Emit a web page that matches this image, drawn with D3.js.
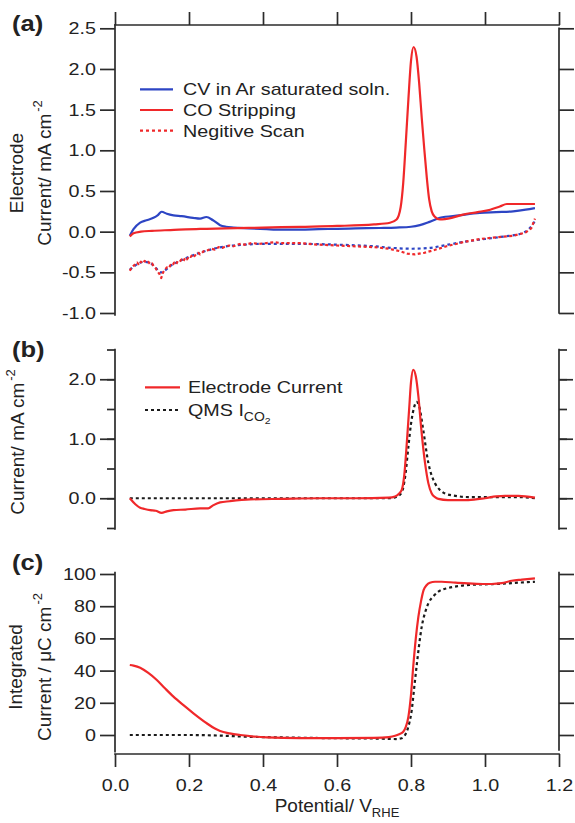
<!DOCTYPE html>
<html><head><meta charset="utf-8">
<script src="https://cdn.jsdelivr.net/npm/d3@7"></script>
<style>
body{margin:0;background:#fff;}
svg{display:block;}
text{font-family:"Liberation Sans",Arial,Helvetica,sans-serif;fill:#222;}
</style>
</head><body>
<svg id="chart" width="575" height="823"></svg>
<script>
// ---------------- DATA ----------------
// x axis (Potential / V_RHE)
const xTicks = [0.0, 0.2, 0.4, 0.6, 0.8, 1.0, 1.2];

// Panel (a): electrode current, mA cm^-2
const aTicks = [-1.0, -0.5, 0.0, 0.5, 1.0, 1.5, 2.0, 2.5];
const aLegend = ["CV in Ar saturated soln.", "CO Stripping", "Negitive Scan"];

const cvPosX = [0.04,0.05,0.068,0.085,0.104,0.115,0.126,0.14,0.158,0.18,0.211,0.23,0.247,0.265,0.284,0.30,0.32,0.36,0.41,0.45,0.5,0.55,0.6,0.65,0.716,0.76,0.8,0.824,0.85,0.878,0.93,0.986,1.03,1.076,1.11,1.135];
const cvPosY = [-0.05,0.03,0.11,0.14,0.17,0.2,0.245,0.22,0.2,0.19,0.17,0.16,0.18,0.14,0.08,0.06,0.05,0.04,0.03,0.025,0.025,0.03,0.035,0.04,0.045,0.05,0.06,0.08,0.12,0.17,0.2,0.23,0.24,0.25,0.27,0.29];

const cvNegX = [0.04,0.06,0.08,0.1,0.125,0.15,0.2,0.25,0.3,0.35,0.4,0.5,0.6,0.7,0.75,0.8,0.85,0.9,0.95,1.0,1.05,1.1,1.12,1.135];
const cvNegY = [-0.47,-0.4,-0.37,-0.4,-0.5,-0.42,-0.31,-0.23,-0.18,-0.16,-0.15,-0.15,-0.16,-0.18,-0.2,-0.21,-0.2,-0.16,-0.12,-0.09,-0.06,-0.02,0.04,0.13];

const coX = [0.04,0.05,0.07,0.1,0.15,0.23,0.3,0.4,0.5,0.6,0.7,0.743,0.761,0.772,0.779,0.786,0.793,0.8,0.807,0.815,0.822,0.829,0.836,0.843,0.849,0.856,0.863,0.878,0.91,0.941,0.98,1.014,1.04,1.059,1.09,1.135];
const coY = [-0.06,-0.02,0.0,0.01,0.02,0.035,0.04,0.05,0.06,0.07,0.09,0.11,0.15,0.3,0.6,1.1,1.63,2.1,2.27,2.15,1.83,1.4,1.01,0.65,0.4,0.25,0.19,0.15,0.17,0.21,0.24,0.27,0.31,0.34,0.34,0.34];

const coNegX = [0.04,0.045,0.05,0.055,0.06,0.065,0.07,0.075,0.08,0.085,0.09,0.095,0.1,0.105,0.11,0.115,0.12,0.125,0.13,0.135,0.14,0.145,0.15,0.155,0.16,0.165,0.17,0.175,0.18,0.185,0.19,0.195,0.2,0.205,0.21,0.215,0.22,0.225,0.23,0.24,0.25,0.26,0.27,0.28,0.29,0.3,0.31,0.32,0.33,0.34,0.35,0.37,0.39,0.41,0.43,0.45,0.5,0.55,0.6,0.65,0.7,0.74,0.77,0.79,0.81,0.836,0.86,0.896,0.94,0.986,1.03,1.076,1.11,1.125,1.135];
const coNegY = [-0.48,-0.44,-0.42,-0.4,-0.38,-0.41,-0.37,-0.39,-0.36,-0.38,-0.37,-0.4,-0.39,-0.43,-0.45,-0.49,-0.52,-0.57,-0.5,-0.47,-0.44,-0.45,-0.41,-0.42,-0.38,-0.4,-0.36,-0.37,-0.34,-0.36,-0.32,-0.34,-0.3,-0.31,-0.28,-0.3,-0.27,-0.26,-0.28,-0.24,-0.23,-0.21,-0.22,-0.19,-0.2,-0.18,-0.17,-0.18,-0.16,-0.15,-0.16,-0.14,-0.15,-0.14,-0.13,-0.14,-0.14,-0.16,-0.17,-0.18,-0.19,-0.21,-0.24,-0.27,-0.28,-0.26,-0.23,-0.18,-0.13,-0.09,-0.07,-0.05,-0.01,0.04,0.16];

// Panel (b): current, mA cm^-2
const bTicks = [-0.5, 0.0, 0.5, 1.0, 1.5, 2.0, 2.5];
const bLabels = [0.0, 1.0, 2.0];
const bLegend = ["Electrode Current", "QMS I"];

const ecX = [0.04,0.055,0.068,0.08,0.095,0.11,0.126,0.14,0.158,0.19,0.23,0.252,0.265,0.284,0.31,0.365,0.45,0.55,0.65,0.74,0.757,0.768,0.775,0.782,0.788,0.795,0.8,0.806,0.813,0.82,0.828,0.838,0.847,0.856,0.865,0.874,0.9,0.955,1.0,1.03,1.054,1.09,1.135];
const ecY = [0,-0.1,-0.16,-0.18,-0.2,-0.21,-0.245,-0.22,-0.2,-0.19,-0.17,-0.17,-0.12,-0.07,-0.05,-0.02,-0.01,0,0,0.01,0.03,0.08,0.14,0.4,0.87,1.5,1.95,2.16,2.05,1.71,1.15,0.59,0.25,0.08,0.02,-0.01,-0.03,-0.03,0,0.03,0.04,0.04,0.01];

const qmsX = [0.04,0.2,0.4,0.6,0.74,0.76,0.775,0.785,0.793,0.8,0.808,0.815,0.822,0.833,0.847,0.856,0.865,0.878,0.892,0.92,0.955,1.0,1.045,1.09,1.135];
const qmsY = [0,0,0,0,0,0.02,0.1,0.4,0.87,1.25,1.52,1.62,1.55,1.15,0.59,0.38,0.25,0.14,0.08,0.04,0.02,0.02,0.02,0.02,0.0];

// Panel (c): integrated current, uC cm^-2
const cTicks = [0, 20, 40, 60, 80, 100];

const intX = [0.04,0.05,0.068,0.09,0.113,0.135,0.158,0.185,0.212,0.248,0.27,0.284,0.31,0.338,0.37,0.41,0.5,0.6,0.7,0.74,0.757,0.768,0.779,0.786,0.793,0.8,0.806,0.813,0.82,0.827,0.834,0.842,0.851,0.865,0.883,0.92,0.955,1.0,1.018,1.045,1.072,1.1,1.135];
const intY = [43.5,43.1,41.8,38.6,34.2,29,23.8,18.5,13.5,7.3,4,2.5,1,0,-0.8,-1.5,-2,-2,-1.8,-1.3,-0.5,0.5,2,5,11.4,25,42.4,60,73.5,83,90,93,94.6,95.2,95.2,94.6,94.2,93.8,93.8,94.3,95.8,96.5,97.3];

const qmsIntX = [0.04,0.2,0.3,0.35,0.45,0.6,0.7,0.76,0.775,0.784,0.79,0.796,0.802,0.808,0.815,0.822,0.829,0.838,0.847,0.86,0.874,0.9,0.928,0.96,1.0,1.05,1.09,1.135];
const qmsIntY = [0,0,-0.5,-1,-1.5,-2,-2.2,-2.5,-2,0,3,8,15.5,28,42.4,56,67.3,76,81.8,86,89,91.3,92.5,93.2,93.6,94,94.6,95.2];

// ---------------- DRAWING ----------------
const FONT = '"Liberation Sans", Arial, Helvetica, sans-serif';
const SX = 1.16, FS = 17, TFS = 19;
const AX = "#2b2b2b", RED = "#f0282a", BLUE = "#2d45c4", BLK = "#1a1a1a";
const LW = 2.2;
const svg = d3.select("#chart");

const x  = d3.scaleLinear().domain([0, 1.2]).range([115, 559]);
const yA = d3.scaleLinear().domain([-1, 2.5]).range([313, 28.3]);
const yB = d3.scaleLinear().domain([-0.5, 2.5]).range([528, 349.5]);
const yC = d3.scaleLinear().domain([0, 100]).range([735, 574]);

function spine(x1, y1, x2, y2) {
  svg.append("line").attr("x1", x1).attr("y1", y1).attr("x2", x2).attr("y2", y2)
    .attr("stroke", AX).attr("stroke-width", 1.7).attr("stroke-linecap", "square");
}

function axis(gen, tx, ty, values, size, fmt) {
  gen.tickValues(values).tickSize(size).tickSizeOuter(0);
  if (fmt) gen.tickFormat(fmt).tickPadding(1.4); else gen.tickFormat("");
  const g = svg.append("g").attr("transform", `translate(${tx},${ty})`).call(gen);
  g.attr("font-family", FONT).attr("font-size", FS);
  g.select(".domain").remove();
  g.selectAll(".tick line").attr("stroke", AX).attr("stroke-width", 1.7);
  g.selectAll(".tick text").attr("fill", "#222").attr("transform", `scale(${SX},1)`);
  return g;
}

function plot(xs, ys, ys2, color, width, dash, curve) {
  const data = xs.map((v, i) => [v, ys[i]]);
  const p = svg.append("path").datum(data)
    .attr("d", d3.line().x(d => x(d[0])).y(d => ys2(d[1])).curve(curve || d3.curveMonotoneX))
    .attr("fill", "none").attr("stroke", color).attr("stroke-width", width)
    .attr("stroke-linejoin", "round");
  if (dash) p.attr("stroke-dasharray", dash);
  return p;
}

function text(tx, ty, str, opts = {}) {
  const sx = opts.sx == null ? SX : opts.sx;
  const t = svg.append("text")
    .attr("transform", `translate(${tx},${ty}) scale(${sx},1)` + (opts.rotate ? " rotate(-90)" : ""))
    .attr("font-size", opts.size || FS)
    .attr("font-weight", opts.weight || "normal")
    .attr("text-anchor", opts.anchor || "start")
    .text(str);
  return t;
}

function title(tx, ty, str, sup) {
  const t = text(tx, ty, str, { rotate: true, anchor: "middle", size: TFS, sx: 1 });
  if (sup) t.append("tspan").attr("dy", -9).attr("dx", 2).attr("font-size", 13).text(sup);
  return t;
}

const f1 = d => d.toFixed(1);

// ---- Panel (a) ----
spine(115, 25, 559, 25);
axis(d3.axisTop(x), 0, 25, xTicks, 13, null);
spine(115, 25, 115, 315);
axis(d3.axisLeft(yA), 115, 0, aTicks, 15, f1);
spine(559, 28.3, 559, 313);
axis(d3.axisRight(yA), 559, 0, aTicks, 15, null);

plot(cvNegX, cvNegY, yA, BLUE, LW, "3,3");
plot(coNegX, coNegY, yA, RED, LW, "3,2.5", d3.curveLinear);
plot(cvPosX, cvPosY, yA, BLUE, LW);
plot(coX, coY, yA, RED, LW);

// legend (a)
const legA = [[BLUE, null], [RED, null], [RED, "3,3"]];
aLegend.forEach((s, i) => {
  const yy = 89.3 + i * 20.7;
  const l = svg.append("line").attr("x1", 140).attr("x2", 173).attr("y1", yy).attr("y2", yy)
    .attr("stroke", legA[i][0]).attr("stroke-width", LW);
  if (legA[i][1]) l.attr("stroke-dasharray", legA[i][1]);
  text(183, yy + 6, s);
});

text(12, 31, "(a)", { size: 22, weight: "bold" });
title(23, 173, "Electrode");
title(51, 173, "Current/ mA cm", "-2");

// ---- Panel (b) ----
spine(115, 349.5, 115, 529);
axis(d3.axisLeft(yB), 115, 0, bTicks, 8, null);
axis(d3.axisLeft(yB), 115, 0, bLabels, 15, f1);
spine(559, 349.5, 559, 529);
axis(d3.axisRight(yB), 559, 0, bTicks, 8, null);
axis(d3.axisRight(yB), 559, 0, bLabels, 14, null);

plot(qmsX, qmsY, yB, BLK, LW, "3,3");
plot(ecX, ecY, yB, RED, LW);

svg.append("line").attr("x1", 145).attr("x2", 180).attr("y1", 387.3).attr("y2", 387.3)
  .attr("stroke", RED).attr("stroke-width", LW);
text(188, 393.3, bLegend[0]);
svg.append("line").attr("x1", 145).attr("x2", 180).attr("y1", 410).attr("y2", 410)
  .attr("stroke", BLK).attr("stroke-width", LW).attr("stroke-dasharray", "3,3");
{
  const t = text(188, 416, bLegend[1]);
  t.append("tspan").attr("dy", 5).attr("font-size", 12).text("CO");
  t.append("tspan").attr("dy", 3).attr("font-size", 9).text("2");
}

text(12, 357, "(b)", { size: 22, weight: "bold" });
title(24, 442, "Current/ mA cm", "-2");

// ---- Panel (c) ----
spine(115, 572.7, 115, 751.7);
axis(d3.axisLeft(yC), 115, 0, cTicks, 15, d => String(d));
spine(559, 572.7, 559, 750);
axis(d3.axisRight(yC), 559, 0, cTicks, 15, null);
spine(115, 754, 559, 754);
{
  const g = axis(d3.axisBottom(x), 0, 754, xTicks, 13, f1);
  g.selectAll(".tick text").attr("dy", "0.71em").attr("y", 24.5);
}

plot(qmsIntX, qmsIntY, yC, BLK, LW, "3,3");
plot(intX, intY, yC, RED, LW);

text(12, 570, "(c)", { size: 22, weight: "bold" });
title(22, 667, "Integrated");
title(51, 667, "Current / \u03bcC cm", "-2");

{
  const t = text(337, 812, "Potential/ V", { anchor: "middle", size: TFS, sx: 1 });
  t.append("tspan").attr("dy", 5).attr("font-size", 13).text("RHE");
}
</script>
</body></html>
